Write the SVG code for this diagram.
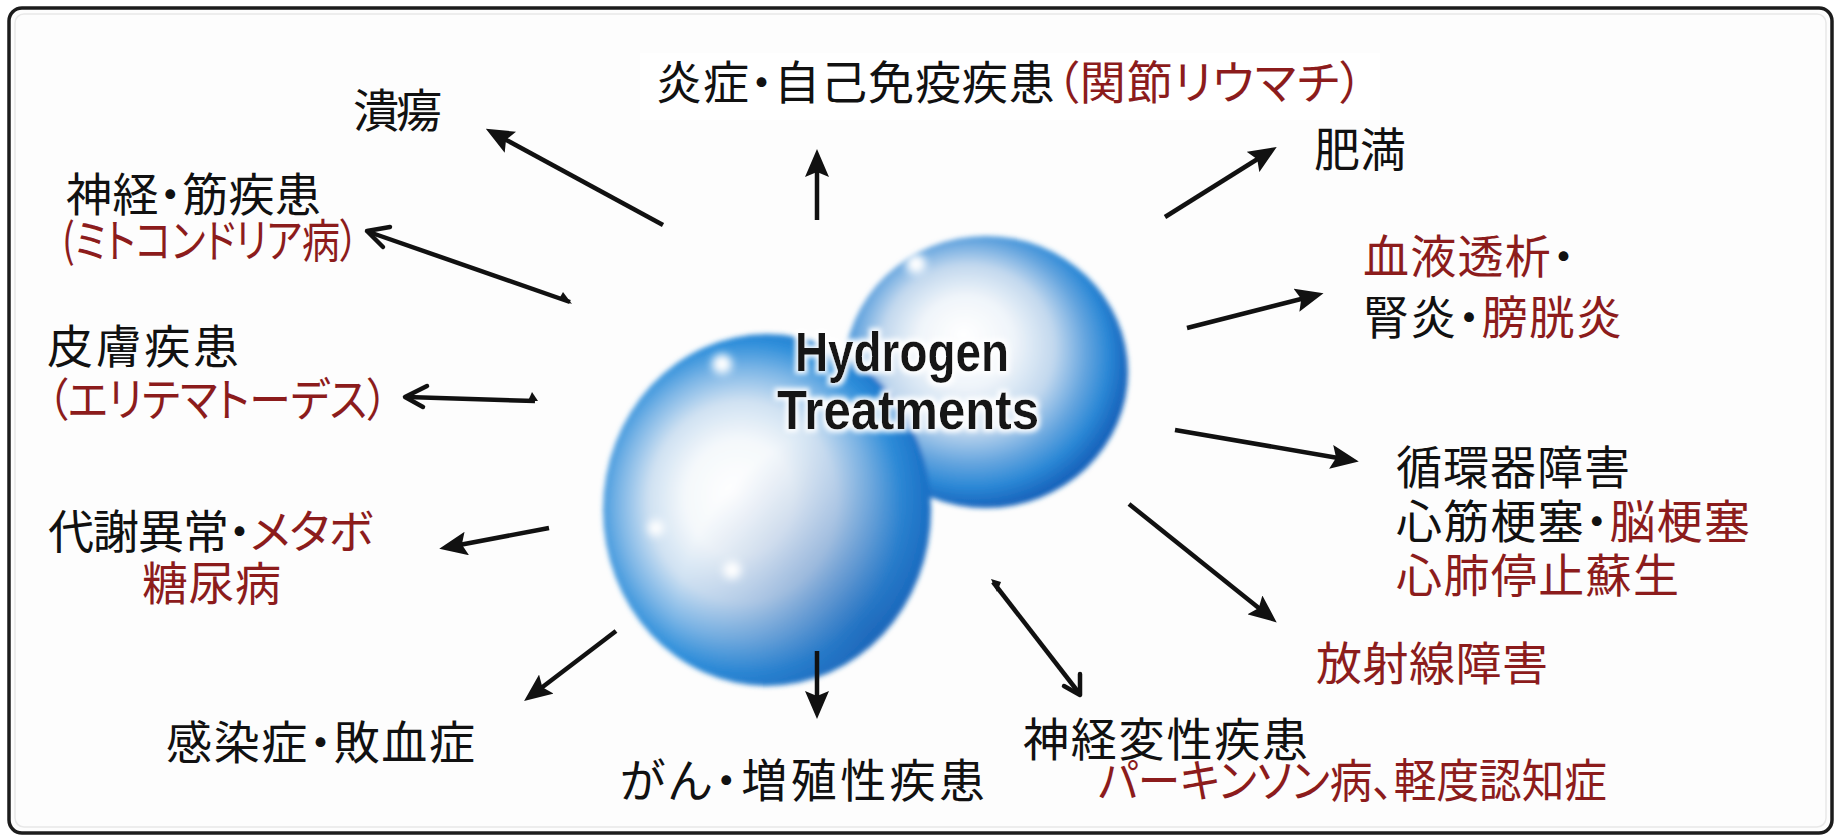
<svg xmlns="http://www.w3.org/2000/svg" width="1839" height="838" viewBox="0 0 1839 838">
  <style>
    .lb { font-family: "Noto Sans CJK JP", "Noto Sans CJK SC", sans-serif; font-size: 46px; fill: #111111; font-feature-settings: "palt" 1; }
    .rd { fill: #8c1c1c; }
    .con { stroke: #111111; stroke-width: 4.5; fill: none; stroke-linecap: butt; }
    .chev { stroke: #111111; stroke-width: 4.5; fill: none; stroke-linecap: round; stroke-linejoin: round; }
    .tick { fill: #111111; }
    .box { fill: #ffffff; }
    .title { font-family: "Liberation Sans", Arial, sans-serif; font-weight: bold; font-size: 56px; fill: #141414; }
  </style>
  <defs>
    <marker id="head" viewBox="0 0 28 24" refX="13" refY="12" markerWidth="28" markerHeight="24" markerUnits="userSpaceOnUse" orient="auto">
      <path d="M0,0 L28,12 L0,24 L5,12 Z" fill="#111111"/>
    </marker>
    <radialGradient id="sphereL" cx="0.45" cy="0.5" r="0.55" fx="0.4" fy="0.45">
      <stop offset="0" stop-color="#ffffff"/>
      <stop offset="0.3" stop-color="#f4f8fb"/>
      <stop offset="0.52" stop-color="#cfe1f2"/>
      <stop offset="0.7" stop-color="#7db6e6"/>
      <stop offset="0.85" stop-color="#2f8fdb"/>
      <stop offset="1" stop-color="#1a72c8"/>
    </radialGradient>
    <radialGradient id="sphereR" cx="0.45" cy="0.45" r="0.55" fx="0.42" fy="0.36">
      <stop offset="0" stop-color="#ffffff"/>
      <stop offset="0.3" stop-color="#f0f5fa"/>
      <stop offset="0.55" stop-color="#c2d8ee"/>
      <stop offset="0.74" stop-color="#67a6df"/>
      <stop offset="0.88" stop-color="#2b88d6"/>
      <stop offset="1" stop-color="#1864bc"/>
    </radialGradient>
    <radialGradient id="shadeLR" cx="0.82" cy="0.85" r="0.6">
      <stop offset="0" stop-color="#1a55a8" stop-opacity="0.5"/>
      <stop offset="1" stop-color="#1a55a8" stop-opacity="0"/>
    </radialGradient>
    <filter id="soft" x="-10%" y="-10%" width="120%" height="120%">
      <feGaussianBlur stdDeviation="2.5"/>
    </filter>
    <filter id="spec" x="-50%" y="-50%" width="200%" height="200%">
      <feGaussianBlur stdDeviation="4"/>
    </filter>
    <filter id="glow" x="-10%" y="-30%" width="120%" height="160%">
      <feMorphology in="SourceAlpha" operator="dilate" radius="2.5" result="fat"/>
      <feGaussianBlur in="fat" stdDeviation="2.5" result="blur"/>
      <feFlood flood-color="#ffffff" flood-opacity="0.95"/>
      <feComposite in2="blur" operator="in" result="halo"/>
      <feMerge>
        <feMergeNode in="halo"/>
        <feMergeNode in="SourceGraphic"/>
      </feMerge>
    </filter>
  </defs>

  <rect width="1839" height="838" fill="#ffffff"/>

  <!-- frame -->
  <g id="frame">
    <rect x="9" y="8" width="1823" height="825" rx="13" fill="#fdfdfd" stroke="#1c1c1c" stroke-width="3.5"/>
    <rect x="15" y="14" width="1811" height="813" rx="9" fill="none" stroke="#e8e8e8" stroke-width="1.5"/>
  </g>

  <!-- central molecule -->
  <g id="hydrogen">
    <g filter="url(#soft)">
      <ellipse cx="986" cy="372" rx="142" ry="136" fill="url(#sphereR)"/>
      <ellipse cx="767" cy="510" rx="164" ry="176" fill="url(#sphereL)"/>
      <ellipse cx="767" cy="510" rx="164" ry="176" fill="url(#shadeLR)"/>
    </g>
    <g fill="#ffffff" filter="url(#spec)">
      <circle cx="722" cy="364" r="10"/>
      <circle cx="656" cy="528" r="8"/>
      <circle cx="732" cy="570" r="9"/>
      <circle cx="916" cy="264" r="10"/>
    </g>
    <g filter="url(#glow)">
      <text class="title" x="902" y="371" text-anchor="middle" textLength="214" lengthAdjust="spacingAndGlyphs">Hydrogen</text>
      <text class="title" x="908" y="429" text-anchor="middle" textLength="262" lengthAdjust="spacingAndGlyphs">Treatments</text>
    </g>
  </g>

  <!-- connectors -->
  <g id="connectors">
    <line class="con" x1="663" y1="225" x2="499" y2="136" marker-end="url(#head)"/>
    <line class="con" x1="817" y1="220" x2="817" y2="164" marker-end="url(#head)"/>
    <line class="con" x1="1165" y1="217" x2="1264" y2="155" marker-end="url(#head)"/>
    <line class="con" x1="1187" y1="328" x2="1309" y2="297" marker-end="url(#head)"/>
    <line class="con" x1="1175" y1="430" x2="1344" y2="459" marker-end="url(#head)"/>
    <line class="con" x1="549" y1="528" x2="454" y2="546" marker-end="url(#head)"/>
    <line class="con" x1="1129" y1="504" x2="1265" y2="613" marker-end="url(#head)"/>
    <line class="con" x1="616" y1="631" x2="536" y2="692" marker-end="url(#head)"/>
    <line class="con" x1="817" y1="651" x2="817" y2="704" marker-end="url(#head)"/>

    <!-- open-headed connectors with a small barb at the tail -->
    <line class="con" x1="570" y1="302" x2="369" y2="232"/>
    <polyline class="chev" points="390,227 367,231 383,247"/>
    <path class="tick" d="M572,304 L563,292 L559,299 Z"/>

    <line class="con" x1="535" y1="401" x2="407" y2="397"/>
    <polyline class="chev" points="427,386 405,397 423,407"/>
    <path class="tick" d="M538,401 L532,392 L528,401 Z"/>

    <line class="con" x1="993" y1="582" x2="1079" y2="693"/>
    <polyline class="chev" points="1064,686 1080,695 1080,674"/>
    <path class="tick" d="M991,579 L1001,582 L997,592 Z"/>
  </g>

  <!-- labels -->
  <g id="n-ulcer">
    <text class="lb" x="353" y="127" textLength="89">潰瘍</text>
  </g>

  <g id="n-inflammation">
    <rect class="box" x="640" y="53" width="740" height="67"/>
    <text class="lb" x="656" y="99" textLength="707">炎症・自己免疫疾患<tspan class="rd">（関節リウマチ）</tspan></text>
  </g>

  <g id="n-obesity">
    <text class="lb" x="1314" y="166" textLength="92">肥満</text>
  </g>

  <g id="n-neuromuscular">
    <text class="lb" x="66" y="211" textLength="255">神経・筋疾患</text>
    <text class="lb rd" x="62" y="257" textLength="297" lengthAdjust="spacingAndGlyphs">(ミトコンドリア病）</text>
  </g>

  <g id="n-renal">
    <text class="lb" x="1363" y="273" textLength="212"><tspan class="rd">血液透析</tspan>・</text>
    <text class="lb" x="1363" y="334" textLength="259">腎炎・<tspan class="rd">膀胱炎</tspan></text>
  </g>

  <g id="n-skin">
    <text class="lb" x="47" y="363" textLength="192">皮膚疾患</text>
    <text class="lb rd" x="47" y="416" textLength="341" lengthAdjust="spacingAndGlyphs">（エリテマトーデス）</text>
  </g>

  <g id="n-metabolic">
    <text class="lb" x="48" y="548" textLength="325">代謝異常・<tspan class="rd">メタボ</tspan></text>
    <text class="lb rd" x="142" y="600" textLength="139">糖尿病</text>
  </g>

  <g id="n-circulatory">
    <text class="lb" x="1396" y="484" textLength="234">循環器障害</text>
    <text class="lb" x="1396" y="538" textLength="354">心筋梗塞・<tspan class="rd">脳梗塞</tspan></text>
    <text class="lb rd" x="1396" y="592" textLength="283">心肺停止蘇生</text>
  </g>

  <g id="n-radiation">
    <text class="lb rd" x="1316" y="680" textLength="232">放射線障害</text>
  </g>

  <g id="n-infection">
    <text class="lb" x="166" y="759" textLength="309">感染症・敗血症</text>
  </g>

  <g id="n-cancer">
    <text class="lb" x="620" y="797" textLength="365">がん・増殖性疾患</text>
  </g>

  <g id="n-neurodegenerative">
    <text class="lb" x="1023" y="756" textLength="285">神経変性疾患</text>
    <text class="lb rd" x="1098" y="797" textLength="509" lengthAdjust="spacingAndGlyphs">パーキンソン病、軽度認知症</text>
  </g>
</svg>
